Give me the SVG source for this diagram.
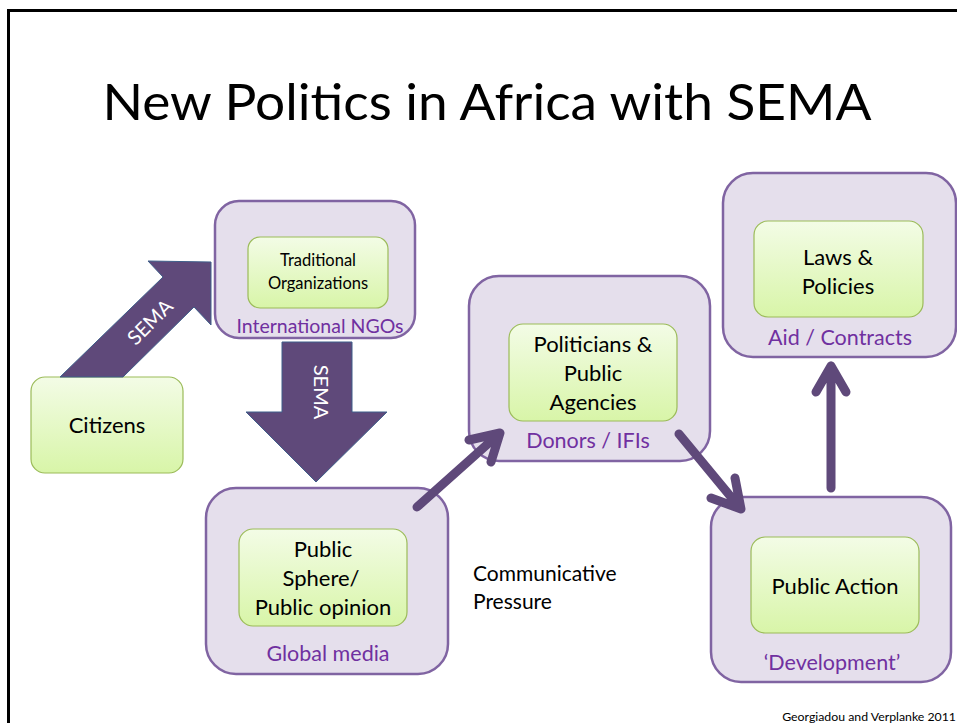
<svg xmlns="http://www.w3.org/2000/svg" width="957" height="723" viewBox="0 0 957 723">
<defs>
<linearGradient id="g" x1="0" y1="0" x2="0" y2="1">
<stop offset="0" stop-color="#f3fce6"/>
<stop offset="1" stop-color="#d8f5a8"/>
</linearGradient>
</defs>
<style>
.outer{fill:#e5dfec;stroke:#8064a2;stroke-width:2.5}
.inner{fill:url(#g);stroke:#9bbb59;stroke-width:1.2}
.t{font-family:Lato,"Liberation Sans",sans-serif;fill:#000;text-anchor:middle}
.p{font-family:Lato,"Liberation Sans",sans-serif;fill:#7030a0;text-anchor:middle;font-size:21.5px}
.w{font-family:Lato,"Liberation Sans",sans-serif;fill:#fff;text-anchor:middle;font-size:20px}
.big{fill:#5f497a;stroke:#3f5f8a;stroke-width:1}
.ln{fill:none;stroke:#5f497a;stroke-width:9;stroke-linecap:round;stroke-linejoin:round}
</style>
<rect width="957" height="723" fill="#fff"/>
<path d="M8.5,723 V10.5 H957" fill="none" stroke="#000" stroke-width="3"/>
<text x="487" y="120" class="t" font-size="50" textLength="769" lengthAdjust="spacingAndGlyphs">New Politics in Africa with SEMA</text>

<g id="ngos">
<rect class="outer" x="215" y="201" width="200" height="137" rx="24"/>
<rect class="inner" x="248" y="237" width="140" height="71" rx="12"/>
<text class="t" x="318" y="266" font-size="16.5">Traditional</text>
<text class="t" x="318" y="289" font-size="16.5">Organizations</text>
<text class="p" x="320" y="333" style="font-size:19.5px">International NGOs</text>
</g>

<g id="citizens">
<rect class="inner" x="31" y="377" width="152" height="96" rx="14"/>
<text class="t" x="107" y="433" font-size="22">Citizens</text>
</g>

<g id="media">
<rect class="outer" x="206" y="488" width="242" height="186" rx="30"/>
<rect class="inner" x="239" y="529" width="168" height="97" rx="14"/>
<text class="t" x="323" y="557" font-size="22">Public</text>
<text class="t" x="321" y="586" font-size="22">Sphere/</text>
<text class="t" x="323" y="615" font-size="22">Public opinion</text>
<text class="p" x="328" y="661">Global media</text>
</g>

<g id="donors">
<rect class="outer" x="469" y="276" width="241" height="185" rx="30"/>
<rect class="inner" x="509" y="324" width="168" height="97" rx="14"/>
<text class="t" x="593" y="352" font-size="22">Politicians &amp;</text>
<text class="t" x="593" y="381" font-size="22">Public</text>
<text class="t" x="593" y="410" font-size="22">Agencies</text>
<text class="p" x="588" y="448">Donors / IFIs</text>
</g>

<g id="aid">
<rect class="outer" x="723" y="173" width="233" height="184" rx="30"/>
<rect class="inner" x="754" y="221" width="169" height="96" rx="14"/>
<text class="t" x="838" y="265" font-size="22">Laws &amp;</text>
<text class="t" x="838" y="294" font-size="22">Policies</text>
<text class="p" x="840" y="345">Aid / Contracts</text>
</g>

<g id="action">
<rect class="outer" x="711" y="497" width="240" height="185" rx="30"/>
<rect class="inner" x="751" y="537" width="168" height="96" rx="14"/>
<text class="t" x="835" y="594" font-size="22">Public Action</text>
<text class="p" x="832" y="670">‘Development’</text>
</g>

<text x="473" y="581" font-family="Lato,'Liberation Sans',sans-serif" font-size="21">Communicative</text>
<text x="473" y="609" font-family="Lato,'Liberation Sans',sans-serif" font-size="21">Pressure</text>

<g id="connectors">
<polygon class="big" points="60,377 163,277 148,261 211,262 211,325 194,307 123,377"/>
<text class="w" transform="translate(155,327) rotate(-45)">SEMA</text>
<polygon class="big" points="282,342 352,342 352,412 387,412 316,482 246,412 282,412"/>
<text class="w" transform="translate(314,392) rotate(90)">SEMA</text>
<path class="ln" d="M417,507 L500,433 M469,440 L500,433 L491,462"/>
<path class="ln" d="M679,434 L741,509 M711,498 L741,509 L735,478"/>
<path class="ln" d="M831,488 V366 M816,392 L831,366 L846,392"/>
</g>

<text x="956" y="721" font-family="Lato,'Liberation Sans',sans-serif" font-size="12.3" text-anchor="end">Georgiadou and Verplanke 2011</text>
</svg>
